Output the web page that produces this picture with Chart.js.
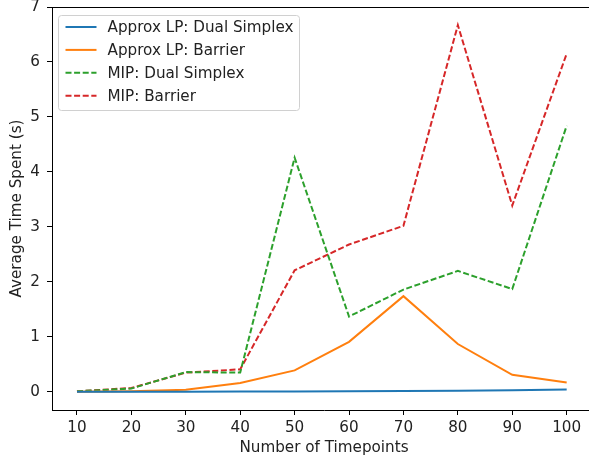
<!DOCTYPE html>
<html>
<head>
<meta charset="utf-8">
<script src="https://cdn.jsdelivr.net/npm/chart.js@4/dist/chart.umd.min.js"></script>
<style>
  html, body { margin: 0; padding: 0; background: #fff; overflow: hidden; }
  #wrap { width: 597px; height: 458px; }
</style>
</head>
<body>
<div id="wrap"><canvas id="chart"></canvas></div>
<script>
// Valores
const timepoints = [10, 20, 30, 40, 50, 60, 70, 80, 90, 100];
const lpDualSimplex = [0.001, 0.002, 0.004, 0.006, 0.008, 0.012, 0.016, 0.022, 0.03, 0.045];
const lpBarrier = [0.0, 0.01, 0.04, 0.16, 0.39, 0.91, 1.74, 0.87, 0.31, 0.17];
const mipDualSimplex = [0.01, 0.06, 0.36, 0.35, 4.26, 1.37, 1.86, 2.2, 1.87, 4.84];
const mipBarrier = [0.01, 0.07, 0.35, 0.41, 2.21, 2.68, 3.02, 6.67, 3.39, 6.15];
const xTicks = [10, 20, 30, 40, 50, 60, 70, 80, 90, 100];
const yTicks = [0, 1, 2, 3, 4, 5, 6, 7];

const FONT = "'DejaVu Sans', sans-serif";
const FONT_SIZE = 15.2;

function toPoints(values) {
  return timepoints.map((t, i) => ({ x: t, y: values[i] }));
}

// Marco superior y leyenda tipo matplotlib
const framePlugin = {
  id: "frame",
  afterDraw(chart) {
    const { ctx, chartArea: a } = chart;
    ctx.save();
    ctx.strokeStyle = "#000";
    ctx.lineWidth = 1;
    ctx.beginPath();
    ctx.moveTo(a.left, a.top + 0.5);
    ctx.lineTo(a.right, a.top + 0.5);
    ctx.stroke();

    // leyenda
    const bx = a.left + 6.5, by = a.top + 8.5, bw = 241, bh = 95;
    ctx.fillStyle = "rgba(255,255,255,0.8)";
    ctx.strokeStyle = "#d0d0d0";
    ctx.beginPath();
    ctx.roundRect(bx, by, bw, bh, 3);
    ctx.fill();
    ctx.stroke();
    ctx.font = FONT_SIZE + "px " + FONT;
    ctx.textBaseline = "middle";
    chart.data.datasets.forEach((ds, i) => {
      const y = by + 11.5 + i * 22.9;
      ctx.strokeStyle = ds.borderColor;
      ctx.lineWidth = 2;
      ctx.setLineDash(ds.borderDash || []);
      ctx.beginPath();
      ctx.moveTo(bx + 7, y);
      ctx.lineTo(bx + 38, y);
      ctx.stroke();
      ctx.setLineDash([]);
      ctx.fillStyle = "#222";
      ctx.fillText(ds.label, bx + 49, y + 1);
    });
    ctx.restore();
  }
};

new Chart(document.getElementById("chart"), {
  type: "line",
  data: {
    datasets: [
      { label: "Approx LP: Dual Simplex", data: toPoints(lpDualSimplex), borderColor: "#1f77b4" },
      { label: "Approx LP: Barrier", data: toPoints(lpBarrier), borderColor: "#ff7f0e" },
      { label: "MIP: Dual Simplex", data: toPoints(mipDualSimplex), borderColor: "#2ca02c", borderDash: [6, 2.6] },
      { label: "MIP: Barrier", data: toPoints(mipBarrier), borderColor: "#d62728", borderDash: [6, 2.6] }
    ]
  },
  options: {
    responsive: true,
    maintainAspectRatio: false,
    animation: false,
    layout: { padding: { top: 7, right: 1, left: 0, bottom: 0 } },
    elements: {
      line: { borderWidth: 2, tension: 0, fill: false },
      point: { radius: 0, hoverRadius: 0 }
    },
    plugins: {
      legend: { display: false },
      tooltip: { enabled: false }
    },
    scales: {
      x: {
        type: "linear",
        min: 5.41,
        max: 105.39,
        afterFit: s => { s.height = 48; s.paddingLeft = 0; s.paddingRight = 0; },
        afterBuildTicks: s => { s.ticks = xTicks.map(v => ({ value: v })); },
        grid: { drawOnChartArea: false, drawTicks: true, tickLength: 5, color: "#000" },
        border: { display: true, color: "#000", width: 1 },
        ticks: { color: "#222", font: { family: FONT, size: FONT_SIZE }, padding: 4, maxRotation: 0 },
        title: { display: true, text: "Number of Timepoints", color: "#222", font: { family: FONT, size: FONT_SIZE }, padding: { top: 0, bottom: 1 } }
      },
      y: {
        min: -0.33,
        max: 7.0,
        afterFit: s => { s.width = 52; s.paddingTop = 0; s.paddingBottom = 0; },
        afterBuildTicks: s => { s.ticks = yTicks.map(v => ({ value: v })); },
        grid: { drawOnChartArea: false, drawTicks: true, tickLength: 5, color: "#000" },
        border: { display: true, color: "#000", width: 1 },
        ticks: { color: "#222", font: { family: FONT, size: FONT_SIZE }, padding: 7 },
        title: { display: true, text: "Average Time Spent (s)", color: "#222", font: { family: FONT, size: FONT_SIZE }, padding: { top: 8, bottom: 0 } }
      }
    }
  },
  plugins: [framePlugin]
});
</script>
</body>
</html>
